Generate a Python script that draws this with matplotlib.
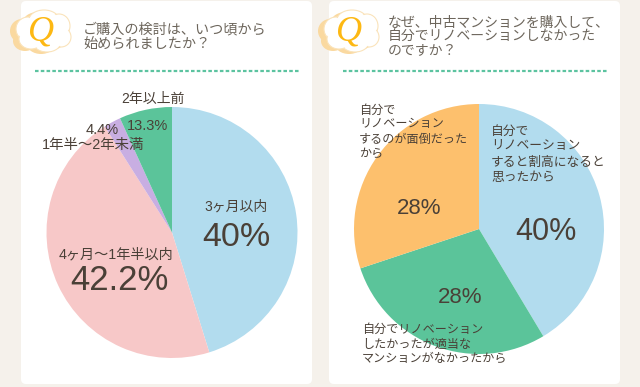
import matplotlib
matplotlib.use("Agg")
import matplotlib.pyplot as plt
from matplotlib.patches import Ellipse, FancyBboxPatch

# Liberation first so digits and % get the lighter latin shapes, kana falls through
plt.rcParams['font.family'] = ['Liberation Sans', 'Noto Sans CJK JP', 'DejaVu Sans']

W, H = 640, 387

# wedge shares as drawn in the picture (they differ from the printed percentages)
left_shares = [45.2, 45.8, 2.2, 6.8]
left_colors = ['#b2dcee', '#f7c8c8', '#c8aee2', '#5bc49a']
left_names = ['3ヶ月以内', '4ヶ月〜1年半以内', '1年半〜2年未満', '2年以上前']
left_printed = ['40%', '42.2%', '4.4%', '13.3%']

right_shares = [41.4, 28.5, 30.1]
right_colors = ['#b2dcee', '#5bc49a', '#fdc06d']
right_printed = ['40%', '28%', '28%']
right_names = [
    ['自分で', 'リノベーション', 'すると割高になると', '思ったから'],
    ['自分でリノベーション', 'したかったが適当な', 'マンションがなかったから'],
    ['自分で', 'リノベーション', 'するのが面倒だった', 'から'],
]

left_title = ['ご購入の検討は、いつ頃から', '始められましたか？']
right_title = ['なぜ、中古マンションを購入して、', '自分でリノベーションしなかった', 'のですか？']

INK = '#4a4037'
TITLE_INK = '#6d665c'


def draw_pie(fig, shares, colors, cx, cy, r):
    # axes placed in pixel terms, pie fills it
    pie_ax = fig.add_axes([(cx - r) / W, 1 - (cy + r) / H, 2 * r / W, 2 * r / H])
    pie_ax.pie(shares, colors=colors, startangle=90, counterclock=False, radius=1)
    pie_ax.set_xlim(-1, 1)
    pie_ax.set_ylim(-1, 1)
    pie_ax.patch.set_alpha(0)
    return pie_ax


def draw_cloud(ax, x, y):
    # bumpy cloud: orange shadow first, then white on top
    bumps = [(0, 0, 46, 34), (-15, -2, 24, 24), (1, -11, 30, 20), (16, -5, 22, 24),
             (18, 6, 20, 20), (4, 11, 28, 20), (-12, 8, 24, 20)]
    for dx, dy, w, h in bumps:
        ax.add_patch(Ellipse((x + dx - 6, y + dy + 2), w, h, color='#fad9a0', lw=0))
    for dx, dy, w, h in bumps:
        ax.add_patch(Ellipse((x + dx, y + dy), w, h, color='white', ec='#fae3ba', lw=0.8))
    for dx, dy, w, h in bumps:
        ax.add_patch(Ellipse((x + dx, y + dy), w - 2, h - 2, color='white', lw=0))
    ax.text(x - 2, y + 1, 'Q', color='#fdb813', fontsize=26, style='italic',
            family='Liberation Serif', ha='center', va='center')


def put_lines(ax, x, ys, lines, size, color=INK):
    for y, line in zip(ys, lines):
        ax.text(x, y, line, fontsize=size, color=color, ha='left', va='center')


fig = plt.figure(figsize=(W / 100, H / 100), dpi=100, facecolor='#f5f1eb')

# background layer in pixel coordinates
bg = fig.add_axes([0, 0, 1, 1])
bg.set_xlim(0, W)
bg.set_ylim(H, 0)
bg.axis('off')

for px in [21, 329]:
    bg.add_patch(FancyBboxPatch((px + 4, 5), 283, 375, boxstyle='round,pad=4,rounding_size=5',
                                fc='white', ec='none'))
draw_cloud(bg, 43, 31)
draw_cloud(bg, 351, 31)

bg.plot([35, 300], [71, 71], color='#5cc3a0', lw=1.6, dashes=(1.6, 1.0))
bg.plot([343, 608], [71, 71], color='#5cc3a0', lw=1.6, dashes=(1.6, 1.0))

put_lines(bg, 83, [29, 45], left_title, 10.2, TITLE_INK)
put_lines(bg, 388, [23, 37, 50], right_title, 10, TITLE_INK)

draw_pie(fig, left_shares, left_colors, 172, 232.5, 125.5)
draw_pie(fig, right_shares, right_colors, 479, 229, 125)

# text layer on top of pies, nudged down a little since va=center sits high
fg = fig.add_axes([0, 0, 1, 1])
fg.set_xlim(0, W)
fg.set_ylim(H - 1.5, -1.5)
fg.axis('off')
fg.patch.set_alpha(0)

fg.text(236, 205, left_names[0], fontsize=10, color=INK, ha='center', va='center')
fg.text(236, 236, left_printed[0], fontsize=24.5, color=INK, ha='center', va='center')
fg.text(116, 253, left_names[1], fontsize=10.2, color=INK, ha='center', va='center')
fg.text(119, 279, left_printed[1], fontsize=25, color=INK, ha='center', va='center')
fg.text(93, 144, left_names[2], fontsize=10.4, color=INK, ha='center', va='center')
fg.text(102, 128, left_printed[2], fontsize=10.5, color=INK, ha='center', va='center')
fg.text(153, 97, left_names[3], fontsize=10, color=INK, ha='center', va='center')
fg.text(148, 124, left_printed[3], fontsize=10.5, color=INK, ha='center', va='center')

put_lines(fg, 491, [130, 145, 161, 177], right_names[0], 9.2)
put_lines(fg, 362, [328, 343, 357], right_names[1], 8.7)
put_lines(fg, 359, [109, 123, 138, 152], right_names[2], 8.7)
fg.text(546, 231, right_printed[0], fontsize=22, color=INK, ha='center', va='center')
fg.text(460, 296, right_printed[1], fontsize=16, color=INK, ha='center', va='center')
fg.text(419, 207, right_printed[2], fontsize=16, color=INK, ha='center', va='center')

fig.savefig('out.png', dpi=100, facecolor=fig.get_facecolor())
